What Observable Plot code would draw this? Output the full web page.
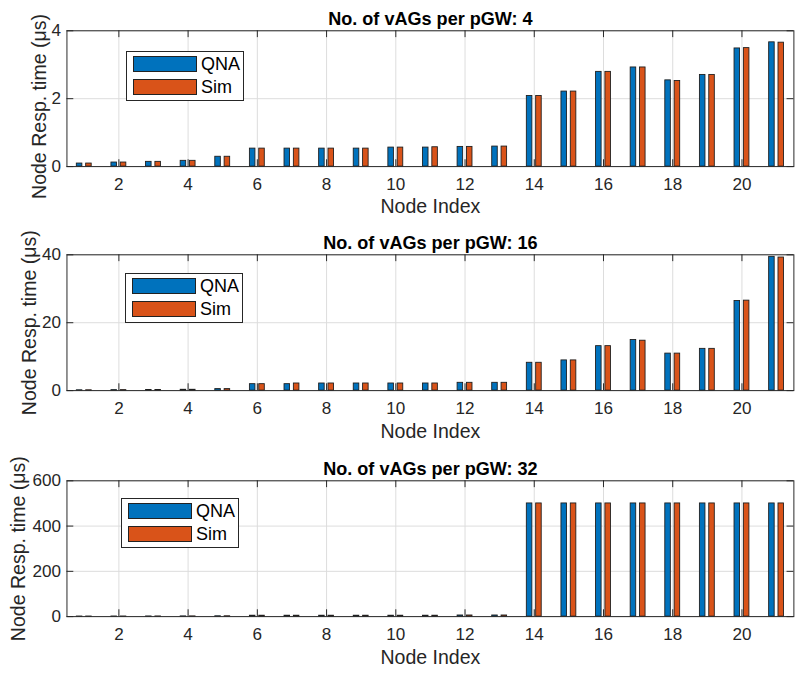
<!DOCTYPE html>
<html><head><meta charset="utf-8">
<script src="https://cdn.jsdelivr.net/npm/d3@7"></script>
<script src="https://cdn.jsdelivr.net/npm/@observablehq/plot@0.6"></script>
<style>
html,body{margin:0;padding:0;background:#fff;width:811px;height:677px;overflow:hidden;position:relative;}
.panel{position:absolute;left:0;width:811px;overflow:hidden;}
.legend{position:absolute;background:#fff;border:1px solid #262626;box-sizing:border-box;width:118px;height:50px;font-family:"Liberation Sans",Arial,sans-serif;font-size:18px;color:#000;}
.legend .row{position:absolute;left:6px;height:16px;display:flex;align-items:center;}
.legend .sw{width:64px;height:16px;box-sizing:border-box;border:1px solid #222;margin-right:4px;}
</style></head><body>
<script>
// ---- data ----
const nodes = [1,2,3,4,5,6,7,8,9,10,11,12,13,14,15,16,17,18,19,20,21];
const xTicks = [2,4,6,8,10,12,14,16,18,20];
const seriesNames = ["QNA", "Sim"];
const seriesColors = ["#0072BD", "#D95319"];

const titles = ["No. of vAGs per pGW: 4", "No. of vAGs per pGW: 16", "No. of vAGs per pGW: 32"];
const yDomains = [[0, 4], [0, 40], [0, 600]];
const yTicks = [[0, 2, 4], [0, 20, 40], [0, 200, 400, 600]];

const qna4  = [0.09,0.12,0.14,0.17,0.29,0.53,0.53,0.53,0.53,0.56,0.56,0.58,0.59,2.08,2.21,2.79,2.92,2.54,2.70,3.48,3.66];
const sim4  = [0.09,0.12,0.14,0.17,0.29,0.53,0.53,0.53,0.53,0.56,0.57,0.58,0.59,2.08,2.21,2.79,2.92,2.52,2.70,3.49,3.65];
const qna16 = [0.10,0.15,0.20,0.25,0.45,1.9,1.9,2.1,2.1,2.1,2.1,2.3,2.3,8.2,8.9,13.1,14.9,10.9,12.3,26.4,39.4];
const sim16 = [0.10,0.15,0.20,0.25,0.45,1.9,2.1,2.1,2.1,2.1,2.1,2.3,2.3,8.2,8.9,13.1,14.7,10.9,12.3,26.5,39.2];
const qna32 = [0.5,0.6,0.8,1.0,1.5,4,4,4,4,4,4,5,5,500,500,500,500,500,500,500,500];
const sim32 = [0.5,0.6,0.8,1.0,1.5,4,4,4,4,4,4,5,5,500,500,500,500,500,500,500,500];

const qnaAll = [qna4, qna16, qna32];
const simAll = [sim4, sim16, sim32];

// ---- layout ----
const panels = [
  {top: 0,   height: 225, mt: 31, titleDy: -6, ylabDx: -28,   ylabDy: 8, legend: [126, 51]},
  {top: 225, height: 226, mt: 30, titleDy: -6, ylabDx: -38.5, ylabDy: 0, legend: [125, 273]},
  {top: 451, height: 226, mt: 30, titleDy: -6, ylabDx: -49,   ylabDy: 0, legend: [121, 498]}
];
const ML = 68, MR = 18, W = 830, AH = 139;
const font = "'Liberation Sans', Arial, Helvetica, sans-serif";
const axisColor = "#262626";

panels.forEach((p, i) => {
  const data = nodes.map((n, j) => ({node: n, qna: qnaAll[i][j], sim: simAll[i][j]}));
  const aw = W - ML - MR;
  const mb = p.height - p.mt - AH;
  const chart = Plot.plot({
    width: W, height: p.height,
    marginLeft: ML, marginRight: MR, marginTop: p.mt, marginBottom: mb,
    style: {fontFamily: font, fontSize: "17px", color: "#262626", background: "#fff", overflow: "visible"},
    x: {domain: [0.5, 21.5], ticks: xTicks},
    y: {domain: yDomains[i], ticks: yTicks[i]},
    marks: [
      Plot.gridX(xTicks, {stroke: "#dcdcdc", strokeOpacity: 1}),
      Plot.gridY(yTicks[i], {stroke: "#dcdcdc", strokeOpacity: 1}),
      Plot.rectY(data, {x1: d => d.node - 0.215, x2: d => d.node - 0.055, y1: 0, y2: "qna",
        fill: seriesColors[0], stroke: "#1e1e1e", strokeWidth: 0.9}),
      Plot.rectY(data, {x1: d => d.node + 0.055, x2: d => d.node + 0.215, y1: 0, y2: "sim",
        fill: seriesColors[1], stroke: "#1e1e1e", strokeWidth: 0.9}),
      // inward ticks (MATLAB style)
      Plot.ruleX(xTicks, {stroke: axisColor, insetTop: AH - 7}),
      Plot.ruleX(xTicks, {stroke: axisColor, insetBottom: AH - 7}),
      Plot.ruleY(yTicks[i], {stroke: axisColor, insetRight: aw - 7}),
      Plot.ruleY(yTicks[i], {stroke: axisColor, insetLeft: aw - 7}),
      Plot.frame({stroke: axisColor, strokeWidth: 1}),
      Plot.axisX(xTicks, {tickSize: 0, tickPadding: 12, label: null, fill: axisColor, fontSize: 17.5}),
      Plot.axisY(yTicks[i], {tickSize: 0, tickPadding: 6, label: null, fill: axisColor, fontSize: 17.5}),
      Plot.text([titles[i]], {frameAnchor: "top", dy: p.titleDy, lineAnchor: "bottom",
        fontWeight: "bold", fontSize: 18.5, fill: "#000"}),
      Plot.text(["Node Index"], {frameAnchor: "bottom", dy: 48, lineAnchor: "bottom",
        fontSize: 20, fill: axisColor}),
      Plot.text(["Node Resp. time (μs)"], {frameAnchor: "left", dx: p.ylabDx, dy: p.ylabDy, rotate: -90,
        lineAnchor: "middle", textAnchor: "middle", fontSize: 20, fill: axisColor})
    ]
  });
  const div = document.createElement("div");
  div.className = "panel";
  div.style.top = p.top + "px";
  div.style.height = p.height + "px";
  div.appendChild(chart);
  document.body.appendChild(div);

  const lg = document.createElement("div");
  lg.className = "legend";
  lg.style.left = p.legend[0] + "px";
  lg.style.top = p.legend[1] + "px";
  seriesNames.forEach((name, k) => {
    const row = document.createElement("div");
    row.className = "row";
    row.style.top = (4 + k * 23) + "px";
    const sw = document.createElement("div");
    sw.className = "sw";
    sw.style.background = seriesColors[k];
    const tx = document.createElement("span");
    tx.textContent = name;
    row.appendChild(sw); row.appendChild(tx);
    lg.appendChild(row);
  });
  document.body.appendChild(lg);
});
</script>
</body></html>
